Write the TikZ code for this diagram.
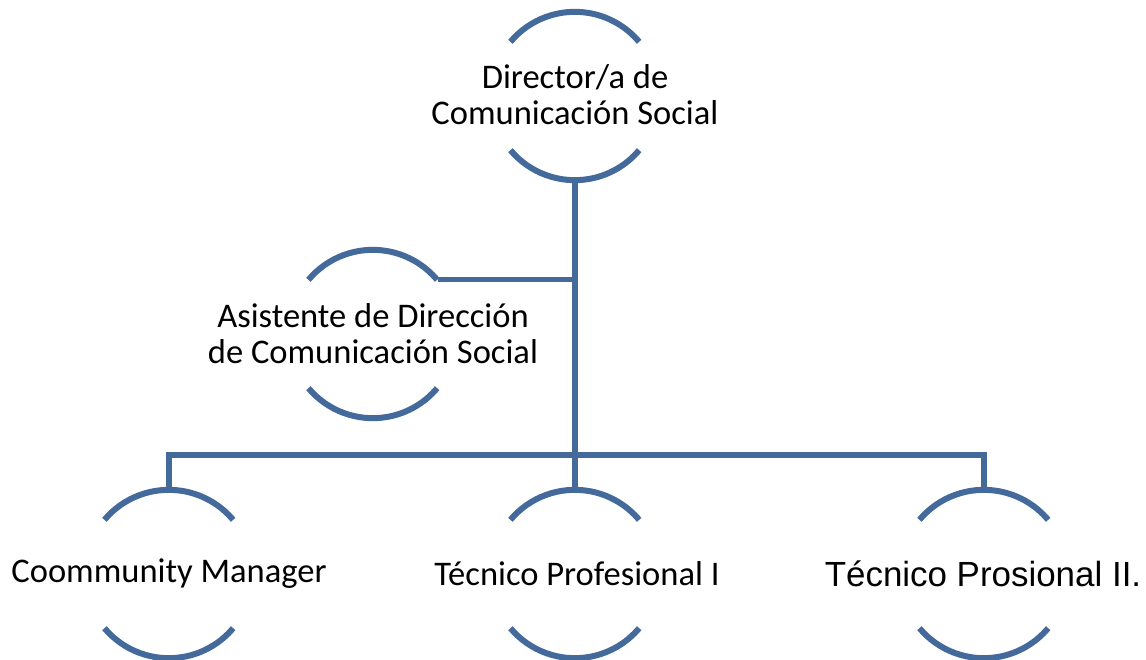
\documentclass[tikz,border=0pt]{standalone}
\usepackage{fontspec}
\setmainfont{Carlito}
\newfontfamily\arialf{Liberation Sans}
\definecolor{ringblue}{RGB}{68,105,155}
\begin{document}
\begin{tikzpicture}[x=0.75pt,y=0.75pt,
  ring/.style={circle,inner sep=0pt,minimum size=168*0.75pt},
  arcline/.style={draw=ringblue,line width=4.5pt},
  conn/.style={draw=ringblue,line width=3.8pt,line join=miter},
  txt/.style={align=center,font=\fontsize{25.9}{27}\selectfont,text=black,inner sep=0pt}]
\useasboundingbox (0,0) rectangle (1146,-660);
% circles (invisible nodes)
\node[ring] (dir) at (575,-96) {};
\node[ring] (asst) at (373,-334) {};
\node[ring] (cm) at (169,-574) {};
\node[ring] (t1) at (575,-574) {};
\node[ring] (t2) at (984,-574) {};
% arcs
\foreach \n in {dir,asst,cm,t1,t2}{
  \draw[arcline] (\n.140) arc[start angle=140,end angle=40,radius=84];
  \draw[arcline] (\n.220) arc[start angle=220,end angle=320,radius=84];
}
% texts
\node[txt] (dirt) at (575,-95) {Director/a de\\Comunicación Social};
\node[txt] (asstt) at (373,-334) {Asistente de Dirección\\de Comunicación Social};
\node[txt] (cmt) at (169,-574) {Coommunity Manager};
\node[txt] (t1t) at (577,-574) {Técnico Profesional I};
\node[txt,font=\arialf\fontsize{26.2}{28}\selectfont] (t2t) at (983,-574) {Técnico Prosional II.};
% connectors
\coordinate (j2) at (575,-455);
\draw[conn] (dir.south) -- (j2) -- (t1.north);
\draw[conn] (asst.40) -- (asst.40 -| dir.south);
\draw[conn] (cm.north) |- (j2) -| (t2.north);
\end{tikzpicture}
\end{document}
